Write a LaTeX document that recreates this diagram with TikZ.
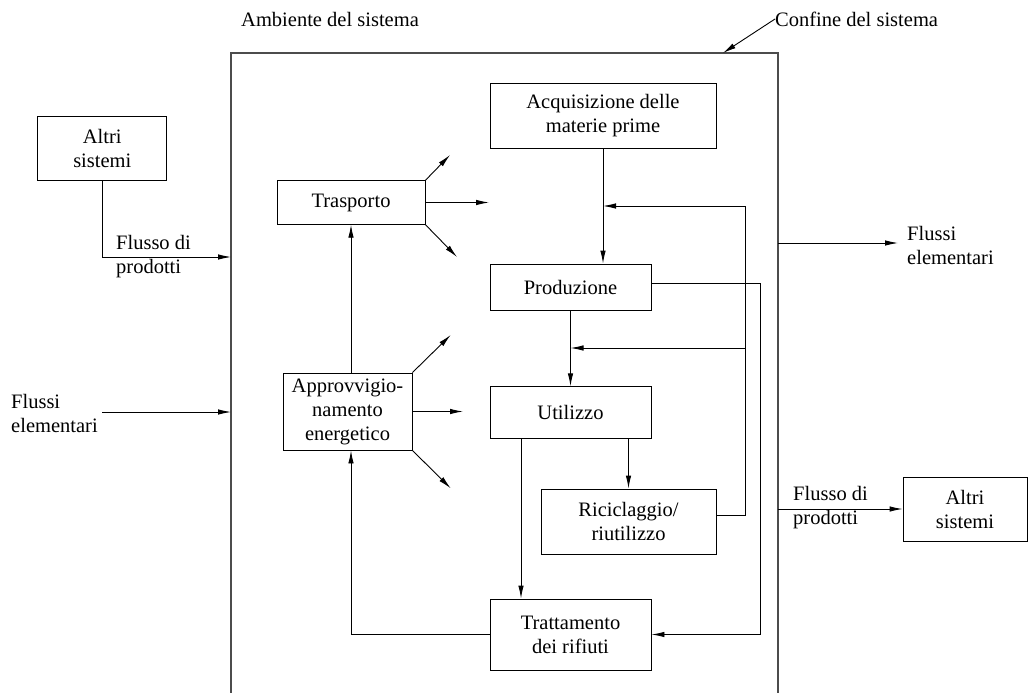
\documentclass[tikz,border=0pt]{standalone}
\usepackage{fontspec}
\setmainfont{Liberation Serif}
\usetikzlibrary{arrows.meta}
\begin{document}
\begin{tikzpicture}[x=1pt,y=-1pt,
  every node/.style={font=\fontsize{20.5}{24}\selectfont},
  box/.style={draw, line width=0.9pt, align=center, inner sep=2pt},
  lbl/.style={align=left, inner sep=0pt},
  flow/.style={line width=0.9pt, -{Latex[length=13pt,width=5.5pt]}},
  plain/.style={line width=0.9pt},
  bound/.style={line width=1.4pt, draw=black!70}]
\useasboundingbox (0,0) rectangle (1028,693);

% system boundary
\draw[bound] (231,693) -- (231,53) -- (778,53) -- (778,693);

% boxes
\node[box, minimum width=129pt, minimum height=64pt] (altriL) at (102.3,148) {Altri\\sistemi};
\node[box, minimum width=148pt, minimum height=43.5pt] (trasp) at (351,202.5) {Trasporto};
\node[box, minimum width=129pt, minimum height=77pt] (approv) at (347.5,411.5) {Approvvigio-\\namento\\energetico};
\node[box, minimum width=226pt, minimum height=65pt] (acq) at (603,115.7) {Acquisizione delle\\materie prime};
\node[box, minimum width=161pt, minimum height=46pt] (prod) at (570.5,287) {Produzione};
\node[box, minimum width=161pt, minimum height=51.5pt] (util) at (570.5,412.5) {Utilizzo};
\node[box, minimum width=175pt, minimum height=65pt] (ricic) at (628.5,521.5) {Riciclaggio/\\riutilizzo};
\node[box, minimum width=161pt, minimum height=71pt] (tratt) at (570.5,634.5) {Trattamento\\dei rifiuti};
\node[box, minimum width=124pt, minimum height=64pt] (altriR) at (965,509) {Altri\\sistemi};

% labels
\node[lbl, anchor=west] (amb) at (241,19) {Ambiente del sistema};
\node[lbl, anchor=west] (conf) at (775,19) {Confine del sistema};
\node[lbl, anchor=west] (fpL) at (116,257) {Flusso di\\prodotti};
\node[lbl, anchor=west] (feL) at (11,413) {Flussi\\elementari};
\node[lbl, anchor=west] (feR) at (907,245.5) {Flussi\\elementari};
\node[lbl, anchor=west] (fpR) at (793,508) {Flusso di\\prodotti};

% coordinates
\coordinate (bT) at (723,53);
\coordinate (bL1) at (231,257);
\coordinate (feLs) at (102,412);
\coordinate (bL2) at (231,412);
\coordinate (bR1) at (778,243);
\coordinate (feRe) at (898,243);
\coordinate (bR2) at (778,509);
\coordinate (t1) at (450,155);
\coordinate (t2) at (489,202.5);
\coordinate (t3) at (457,257);
\coordinate (a1) at (450.7,335);
\coordinate (a2) at (463,411.5);
\coordinate (a3) at (450.7,488.3);
\coordinate (fbR) at (745,515);
\coordinate (fbT) at (745,206);
\coordinate (fbM) at (745,348);
\coordinate (pr1) at (760,283);
\coordinate (u1) at (521,438);

% outer connectors
\draw[flow] (conf.west) -- (bT);
\draw[flow] (altriL.south) -- (altriL.south |- bL1) -- (bL1);
\draw[flow] (feLs) -- (bL2);
\draw[flow] (bR1) -- (feRe);
\draw[flow] (bR2) -- (altriR.west);

% transport / energy outputs
\draw[flow] (trasp.north east) -- (t1);
\draw[flow] (trasp.east) -- (t2);
\draw[flow] (trasp.south east) -- (t3);
\draw[flow] (approv.north east) -- (a1);
\draw[flow] (approv.east) -- (a2);
\draw[flow] (approv.south east) -- (a3);

% main chain
\draw[flow] (acq.south) -- (acq.south |- prod.north);
\draw[flow] (prod.south) -- (util.north);
\draw[flow] (ricic.north |- util.south) -- (ricic.north);
\draw[flow] (u1 |- util.south) -- (u1 |- tratt.north);
\draw[flow] (trasp.south |- approv.north) -- (trasp.south);
\draw[flow] (tratt.west) -| (trasp.south |- approv.south);

% recycling feedback
\draw[plain] (ricic.east |- fbR) -- (fbR) -- (fbT);
\draw[flow] (fbT) -- (acq.south |- fbT);
\draw[flow] (fbM) -- (prod.south |- fbM);

% production to waste treatment
\draw[flow] (prod.east |- pr1) -- (pr1) -- (pr1 |- tratt.east) -- (tratt.east);
\end{tikzpicture}
\end{document}
